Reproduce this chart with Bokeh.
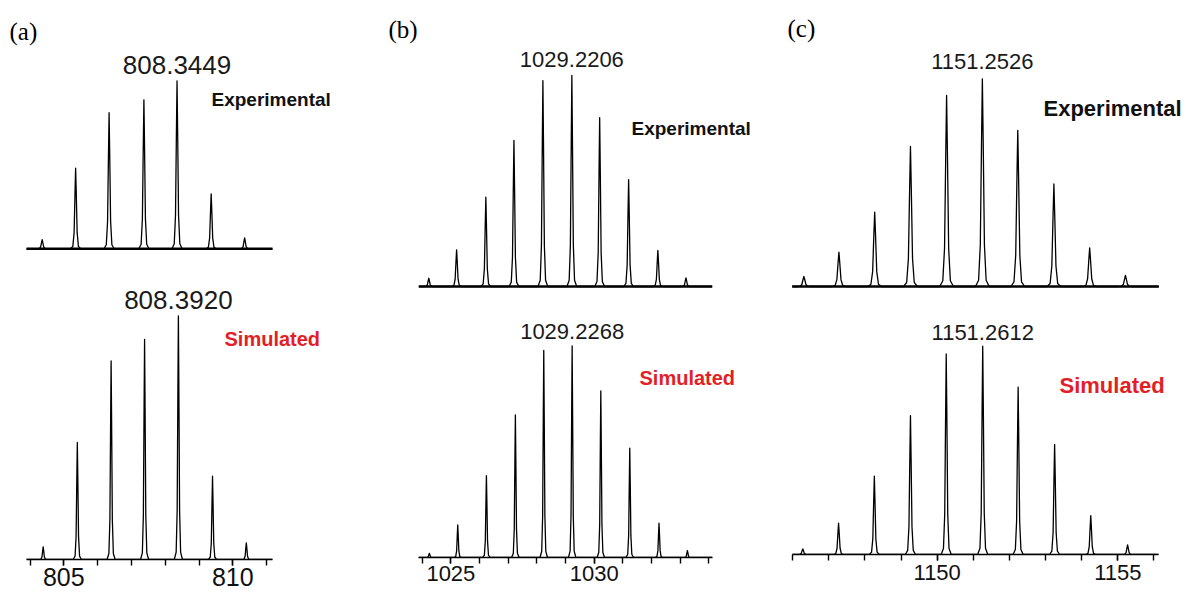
from bokeh.plotting import figure
from bokeh.models import Label, FixedTicker
from bokeh.layouts import row, column
from bokeh.embed import file_html
from bokeh.resources import INLINE

# ---------------- data ----------------
# panel (a)
a_mz_exp = [804.36, 805.35, 806.34, 807.37, 808.35, 809.36, 810.35]
a_int_exp = [5.4, 48.0, 81.0, 88.7, 100.0, 32.7, 6.5]
a_mz_sim = [804.39, 805.40, 806.40, 807.39, 808.39, 809.40, 810.40]
a_int_sim = [5.2, 48.0, 81.5, 90.3, 100.0, 34.2, 6.8]
a_label_exp = "808.3449"
a_label_sim = "808.3920"
a_ticks = [805, 810]
a_minor = [804, 805, 806, 807, 808, 809, 810, 811]

# panel (b)
b_mz_exp = [1024.23, 1025.20, 1026.22, 1027.20, 1028.21, 1029.22, 1030.19, 1031.20, 1032.22, 1033.20]
b_int_exp = [3.9, 17.4, 42.3, 69.2, 97.6, 100.0, 80.0, 50.6, 17.1, 4.1]
b_mz_sim = [1024.25, 1025.24, 1026.24, 1027.25, 1028.24, 1029.23, 1030.23, 1031.24, 1032.26, 1033.25]
b_int_sim = [2.0, 15.4, 38.7, 67.4, 97.8, 100.0, 78.7, 51.6, 16.2, 3.3]
b_label_exp = "1029.2206"
b_label_sim = "1029.2268"
b_ticks = [1025, 1030]
b_minor = [1024, 1025, 1026, 1027, 1028, 1029, 1030, 1031, 1032, 1033, 1034]

# panel (c)
c_mz_exp = [1146.31, 1147.28, 1148.27, 1149.26, 1150.26, 1151.25, 1152.23, 1153.23, 1154.22, 1155.21]
c_int_exp = [4.8, 16.5, 35.8, 67.4, 92.0, 100.0, 75.1, 49.4, 18.6, 5.3]
c_mz_sim = [1146.28, 1147.27, 1148.26, 1149.26, 1150.25, 1151.26, 1152.24, 1153.25, 1154.25, 1155.27]
c_int_sim = [2.7, 15.0, 37.6, 66.7, 96.3, 100.0, 80.3, 52.8, 18.7, 4.6]
c_label_exp = "1151.2526"
c_label_sim = "1151.2612"
c_ticks = [1150, 1155]
c_minor = [1146, 1147, 1148, 1149, 1150, 1151, 1152, 1153, 1154, 1155, 1156]

# ---------------- style / layout ----------------
SANS = "Liberation Sans"
SERIF = "Liberation Serif"
RED = "#e31e26"
PROF_DX = [-1.0, -0.55, -0.3, -0.12, 0.0, 0.12, 0.3, 0.55, 1.0]
PROF_H = [0.0, 0.03, 0.2, 0.7, 1.0, 0.7, 0.2, 0.03, 0.0]

PAGE_H = 595


def profile(mz, inten, x0, x1, hw):
    xs, ys = [x0], [0.0]
    for m, h in zip(mz, inten):
        for dx, f in zip(PROF_DX, PROF_H):
            xs.append(m + dx * hw)
            ys.append(h * f)
    xs.append(x1)
    ys.append(0.0)
    return xs, ys


def make_col(col_x0, col_w, top_h, ref_val, ref_px, ppu, ax_px0, ax_px1,
             exp, sim, labels, ticks, minor, top_base, top_peak, bot_base, bot_peak,
             hw_exp, hw_sim, label_size, exp_name, sim_name, letter, tick_size, standoff,
             gaps):
    bot_h = PAGE_H - top_h
    # data <-> page pixel mapping of this column
    xr = (ref_val + (col_x0 - ref_px) / ppu, ref_val + (col_x0 + col_w - ref_px) / ppu)
    bounds = (ref_val + (ax_px0 - ref_px) / ppu, ref_val + (ax_px1 - ref_px) / ppu)

    def base_fig(height, yr, bottom, mbb):
        p = figure(width=col_w, height=height, x_range=xr, y_range=yr,
                   output_backend="svg", toolbar_location=None,
                   x_axis_location="below" if bottom else None, y_axis_location=None,
                   min_border_left=0, min_border_right=0,
                   min_border_top=0, min_border_bottom=int(mbb))
        p.outline_line_color = None
        p.background_fill_color = "white"
        p.border_fill_color = "white"
        for g in p.grid:
            g.visible = False
        return p

    # ---- top: experimental ----
    upp = 100.0 / top_peak
    t = base_fig(top_h, (-(top_h - top_base) * upp, top_base * upp), False, 0)
    xs, ys = profile(exp[0], exp[1], bounds[0], bounds[1], hw_exp)
    t.line(xs, ys, line_color="black", line_width=1.3, line_join="round")
    t.line(list(bounds), [0, 0], line_color="black", line_width=2.6)

    # ---- bottom: simulated ----
    upp_b = 100.0 / bot_peak
    b = base_fig(bot_h, (0, (bot_base - top_h) * upp_b), True, PAGE_H - bot_base)
    xs, ys = profile(sim[0], sim[1], bounds[0], bounds[1], hw_sim)
    b.line(xs, ys, line_color="black", line_width=1.3, line_join="round")
    ax = b.xaxis[0]
    ax.bounds = bounds
    ax.ticker = FixedTicker(ticks=ticks, minor_ticks=minor)
    ax.axis_line_width = 1.6
    ax.axis_line_color = "black"
    ax.major_tick_line_color = "black"
    ax.minor_tick_line_color = "black"
    ax.major_tick_line_width = 1.4
    ax.minor_tick_line_width = 1.4
    ax.major_tick_in = 0
    ax.major_tick_out = 6
    ax.minor_tick_in = 0
    ax.minor_tick_out = 6
    ax.major_label_standoff = standoff
    ax.major_label_text_font = SANS
    ax.major_label_text_font_size = tick_size
    ax.major_label_text_color = "#111111"

    for p, (mz, inten), lab, gap in ((t, exp, labels[0], gaps[0]), (b, sim, labels[1], gaps[1])):
        imax = inten.index(max(inten))
        p.add_layout(Label(x=mz[imax], y=inten[imax], x_units="data", y_units="data",
                           text=lab, text_align="center", text_baseline="alphabetic",
                           y_offset=gap, text_font=SANS, text_font_size=label_size,
                           text_color="#1a1a1a"))

    # names (page coords -> frame screen coords)
    ex, ey, es = exp_name
    t.add_layout(Label(x=ex - col_x0, y=top_h - ey, x_units="screen", y_units="screen",
                       text="Experimental", text_align="left", text_baseline="middle",
                       text_font=SANS, text_font_style="bold", text_font_size=es,
                       text_color="#111111"))
    sx, sy, ss = sim_name
    b.add_layout(Label(x=sx - col_x0, y=bot_base - sy, x_units="screen", y_units="screen",
                       text="Simulated", text_align="left", text_baseline="middle",
                       text_font=SANS, text_font_style="bold", text_font_size=ss,
                       text_color=RED))
    lt, lx, ly = letter
    t.add_layout(Label(x=lx - col_x0, y=top_h - ly, x_units="screen", y_units="screen",
                       text=lt, text_align="left", text_baseline="middle",
                       text_font=SERIF, text_font_size="25px", text_color="black"))
    return column(t, b)


col_a = make_col(0, 385, 278, 805, 63.3, 33.8, 26, 272,
                 (a_mz_exp, a_int_exp), (a_mz_sim, a_int_sim), (a_label_exp, a_label_sim),
                 a_ticks, a_minor, 248.3, 168.0, 559, 243.7, 0.15, 0.12, "26px",
                 (211, 99, "19px"), (224, 338, "20px"), ("(a)", 9, 31), "25px", 2,
                 (16, 16))
col_b = make_col(385, 395, 292, 1024, 421.7, 28.67, 418.3, 711.7,
                 (b_mz_exp, b_int_exp), (b_mz_sim, b_int_sim), (b_label_exp, b_label_sim),
                 b_ticks, b_minor, 286.0, 211.0, 557, 211.7, 0.17, 0.13, "22px",
                 (631, 127.5, "19px"), (639, 377, "20px"), ("(b)", 388, 29), "22px", 2,
                 (16.5, 14.5))
col_c = make_col(780, 406, 292, 1150, 936.7, 36.13, 791.7, 1158.3,
                 (c_mz_exp, c_int_exp), (c_mz_sim, c_int_sim), (c_label_exp, c_label_sim),
                 c_ticks, c_minor, 286.0, 207.7, 554, 208.3, 0.19, 0.14, "22px",
                 (1043, 107.5, "22px"), (1059, 385, "22px"), ("(c)", 787, 28), "22px", 4,
                 (17, 14))

layout = row(col_a, col_b, col_c)

open("out.html", "w").write(file_html(layout, INLINE))
